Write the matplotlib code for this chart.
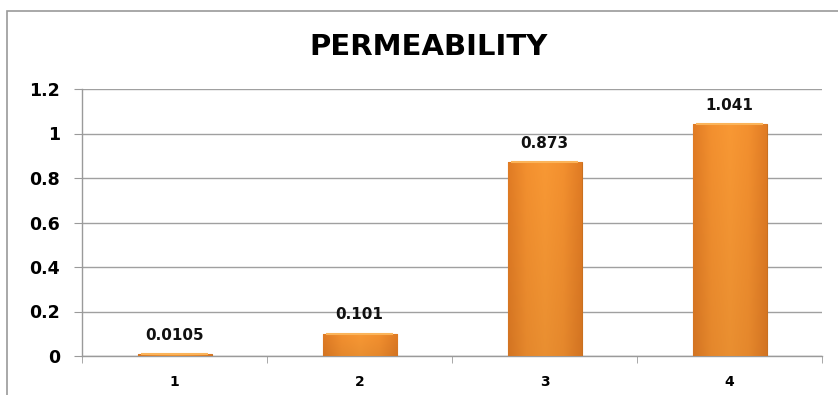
import numpy as np
import matplotlib.pyplot as plt
from matplotlib.colors import LinearSegmentedColormap
from matplotlib.patches import Rectangle

# permeability values per sample
samples = ["1", "2", "3", "4"]
permeability = [0.0105, 0.101, 0.873, 1.041]
value_labels = ["0.0105", "0.101", "0.873", "1.041"]
y_ticks = [0, 0.2, 0.4, 0.6, 0.8, 1.0, 1.2]
y_tick_labels = ["0", "0.2", "0.4", "0.6", "0.8", "1", "1.2"]

fig = plt.figure(figsize=(8.38, 3.95), dpi=100)
ax = fig.add_axes([82 / 838, 1 - 356 / 395, 740 / 838, 267 / 395])

# outer chart frame (left and top edges visible)
fig.patches.append(Rectangle((7 / 838, -0.1), 1.2, 1 - 11 / 395 + 0.1,
                             transform=fig.transFigure, fill=False,
                             edgecolor="#9a9a9a", linewidth=1.2))

x = np.arange(len(samples))
bars = ax.bar(x, permeability, width=0.4, color="#F39331",
              edgecolor="#C97020", linewidth=0.8, zorder=3)

# soft orange shading: slightly darker near the sides and toward the bottom
cmap = LinearSegmentedColormap.from_list(
    "orange", ["#E07B24", "#F3902F", "#F89834", "#F3902F", "#E07B24"])
for b in bars:
    x0, w, h = b.get_x(), b.get_width(), b.get_height()
    hx = np.linspace(0, 1, 256)[None, :]
    vy = np.linspace(0, 1, 64)[:, None]
    shade = cmap(np.repeat(hx, 64, axis=0))
    shade[..., :3] *= (1.0 - 0.06 * vy)[..., None]
    im = ax.imshow(shade, aspect="auto", zorder=3.5,
                   extent=[x0, x0 + w, 0, h], interpolation="bicubic")
    im.set_clip_path(b)
    # light rim along the top edge
    ax.plot([x0 + w * 0.05, x0 + w * 0.95], [h, h], color="#FBB45A",
            linewidth=1.5, zorder=4, solid_capstyle="butt")

for xi, v, lab in zip(x, permeability, value_labels):
    ax.annotate(lab, (xi, v), xytext=(0, 8), textcoords="offset points",
                ha="center", va="bottom", fontsize=11, fontweight="bold",
                family="DejaVu Sans", color="#111111")

ax.set_xlim(-0.5, 3.5)
ax.set_ylim(0, 1.2)
ax.set_yticks(y_ticks)
ax.set_yticklabels(y_tick_labels, fontsize=12.5, fontweight="bold")
ax.set_xticks(x)
ax.set_xticklabels(samples, fontsize=10, fontweight="bold")
ax.set_xticks([-0.5, 0.5, 1.5, 2.5, 3.5], minor=True)
ax.tick_params(axis="x", which="major", length=0, pad=14)
ax.tick_params(axis="x", which="minor", length=5, color="#9a9a9a", direction="out")
ax.tick_params(axis="y", length=6, color="#9a9a9a", pad=10)

ax.grid(axis="y", color="#a0a0a0", linewidth=1.0, zorder=0)
for s in ["top", "right"]:
    ax.spines[s].set_visible(False)
for s in ["left", "bottom"]:
    ax.spines[s].set_color("#9a9a9a")
    ax.spines[s].set_linewidth(1.0)

fig.text(428 / 838, 1 - 47 / 395, "PERMEABILITY", ha="center", va="center",
         fontsize=21, fontweight="bold", family="DejaVu Sans")

fig.savefig("out.png", dpi=100)
